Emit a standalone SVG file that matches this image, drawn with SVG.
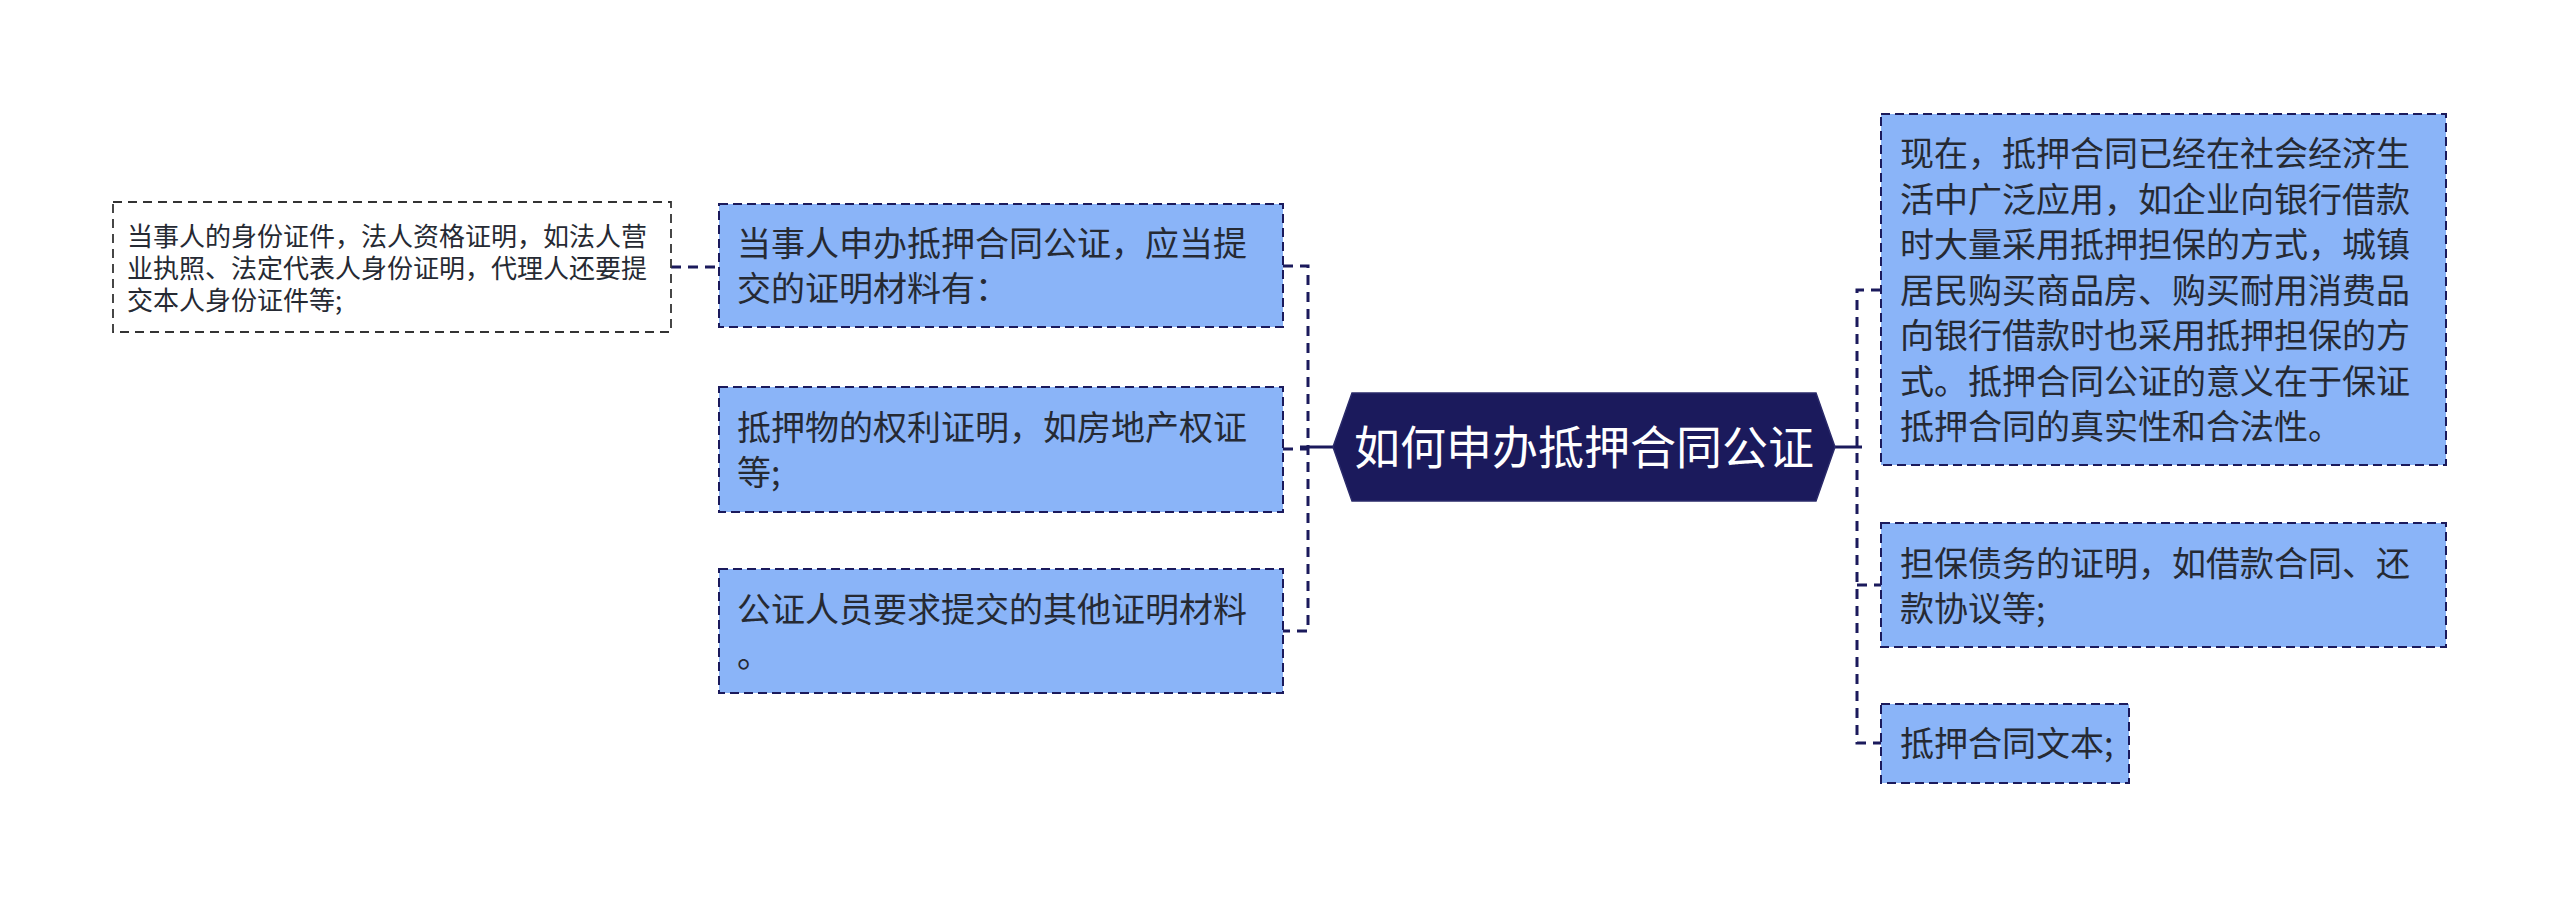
<svg xmlns="http://www.w3.org/2000/svg" width="2560" height="897" viewBox="0 0 2560 897">
<style>
.bg{fill:#ffffff}
.node rect.blue{fill:#8ab4f8;stroke:#1b1a5c;stroke-width:2;stroke-dasharray:9 5}
.node rect.plain{fill:#ffffff;stroke:#333333;stroke-width:1.8;stroke-dasharray:9 6}
.t{font-family:"Noto Sans CJK SC","Noto Sans",sans-serif;fill:#262a33}
.t34{font-size:34px}
.t26{font-size:26px}
.title{font-family:"Noto Sans CJK SC","Noto Sans",sans-serif;font-size:46px;fill:#ffffff;text-anchor:middle}
.dash{fill:none;stroke:#1b1a5c;stroke-width:3;stroke-dasharray:10 7}
.solid{fill:none;stroke:#1b1a5c;stroke-width:3}
</style>
<rect class="bg" x="0" y="0" width="2560" height="897"/>
<g id="connectors">
<path class="dash" d="M671 267 H719"/>
<path class="dash" d="M1283 266 H1308 V631 H1283"/>
<path class="dash" d="M1283 449 H1308"/>
<path class="solid" d="M1300 447 H1334"/>
<path class="dash" d="M1881 290 H1857 V743 H1881"/>
<path class="dash" d="M1857 585 H1881"/>
<path class="solid" d="M1834 447 H1862"/>
</g>
<g id="center" class="node">
<polygon points="1333,447 1352,393 1816,393 1835,447 1816,501 1352,501" fill="#1b1a5c" stroke="#2a2a6a" stroke-width="1.5"/>
<text class="title" x="1584" y="464">如何申办抵押合同公证</text>
</g>
<g id="n-left-detail" class="node">
<rect class="plain" x="113" y="202" width="558" height="130"/>
<text class="t t26" x="127" y="246">当事人的身份证件，法人资格证明，如法人营</text>
<text class="t t26" x="127" y="278">业执照、法定代表人身份证明，代理人还要提</text>
<text class="t t26" x="127" y="310">交本人身份证件等;</text>
</g>
<g id="n-left-1" class="node">
<rect class="blue" x="719" y="204" width="564" height="123"/>
<text class="t t34" x="737" y="256">当事人申办抵押合同公证，应当提</text>
<text class="t t34" x="737" y="301">交的证明材料有：</text>
</g>
<g id="n-left-2" class="node">
<rect class="blue" x="719" y="387" width="564" height="125"/>
<text class="t t34" x="737" y="440">抵押物的权利证明，如房地产权证</text>
<text class="t t34" x="737" y="485">等;</text>
</g>
<g id="n-left-3" class="node">
<rect class="blue" x="719" y="569" width="564" height="124"/>
<text class="t t34" x="737" y="622">公证人员要求提交的其他证明材料</text>
<text class="t t34" x="737" y="667">。</text>
</g>
<g id="n-right-1" class="node">
<rect class="blue" x="1881" y="114" width="565" height="351"/>
<text class="t t34" x="1900" y="166">现在，抵押合同已经在社会经济生</text>
<text class="t t34" x="1900" y="211.5">活中广泛应用，如企业向银行借款</text>
<text class="t t34" x="1900" y="257">时大量采用抵押担保的方式，城镇</text>
<text class="t t34" x="1900" y="302.5">居民购买商品房、购买耐用消费品</text>
<text class="t t34" x="1900" y="348">向银行借款时也采用抵押担保的方</text>
<text class="t t34" x="1900" y="393.5">式。抵押合同公证的意义在于保证</text>
<text class="t t34" x="1900" y="439">抵押合同的真实性和合法性。</text>
</g>
<g id="n-right-2" class="node">
<rect class="blue" x="1881" y="523" width="565" height="124"/>
<text class="t t34" x="1900" y="575.5">担保债务的证明，如借款合同、还</text>
<text class="t t34" x="1900" y="620.5">款协议等;</text>
</g>
<g id="n-right-3" class="node">
<rect class="blue" x="1881" y="704" width="248" height="79"/>
<text class="t t34" x="1900" y="756">抵押合同文本;</text>
</g>
</svg>
